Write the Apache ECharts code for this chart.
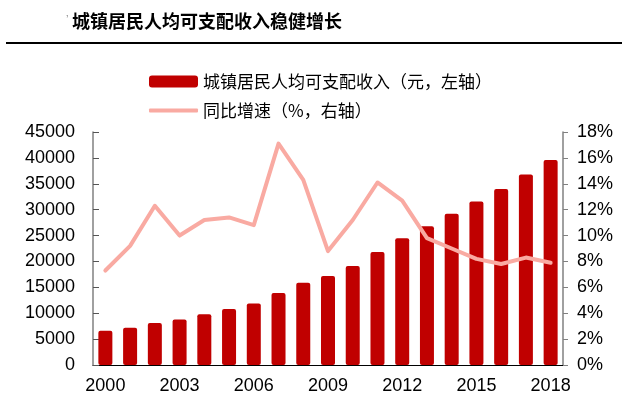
<!DOCTYPE html>
<html>
<head>
<meta charset="utf-8">
<script src="https://cdn.jsdelivr.net/npm/echarts@6/dist/echarts.min.js"></script>
<style>html,body{margin:0;padding:0;background:#fff;}#c{width:622px;height:402px;}</style>
</head>
<body>
<div id="c"></div>
<script>
var years = ['2000','2001','2002','2003','2004','2005','2006','2007','2008','2009','2010','2011','2012','2013','2014','2015','2016','2017','2018'];
var income = [6600, 7200, 8100, 8800, 9800, 10800, 11900, 13900, 15900, 17200, 19100, 21800, 24500, 26800, 29200, 31600, 34000, 36800, 39600];
var growth = [7.3, 9.2, 12.3, 10.0, 11.2, 11.4, 10.8, 17.1, 14.3, 8.8, 11.2, 14.1, 12.7, 9.8, 9.0, 8.2, 7.8, 8.3, 7.9];
var barName = '城镇居民人均可支配收入（元，左轴）';
var lineName = '同比增速（%，右轴）';
var titleText = '城镇居民人均可支配收入稳健增长';

var chart = echarts.init(document.getElementById('c'));
var numFont = {fontFamily: 'Liberation Sans, Arial, sans-serif', fontSize: 18, color: '#000'};
chart.setOption({
  animation: false,
  backgroundColor: '#fff',
  graphic: [
    {type: 'text', left: 72, top: 12, style: {text: titleText, fontSize: 18, fontWeight: 'bold', fill: '#000', fontFamily: 'Noto Sans CJK SC'}},
    {type: 'text', left: 66, top: 14, style: {text: '\u2019', fontSize: 11, fill: '#888', fontFamily: 'Liberation Sans'}},
    {type: 'rect', shape: {x: 6, y: 42, width: 616, height: 2}, style: {fill: '#000'}}
  ],
  legend: [
    {left: 149, top: 73, padding: 0, orient: 'vertical', itemWidth: 49, itemHeight: 12,
     data: [{name: barName, icon: 'roundRect'}],
     textStyle: {fontSize: 17, color: '#000', fontFamily: 'Noto Sans CJK SC'}},
    {left: 149, top: 102, padding: 0, orient: 'vertical', itemWidth: 49, itemHeight: 4,
     data: [{name: lineName, icon: 'roundRect'}],
     textStyle: {fontSize: 17, color: '#000', fontFamily: 'Noto Sans CJK SC'}}
  ],
  grid: {left: 93, right: 59, top: 132, bottom: 37},
  xAxis: {
    type: 'category', data: years, boundaryGap: true,
    axisLine: {lineStyle: {color: '#000', width: 1}},
    axisTick: {inside: true, length: 5, interval: 2, lineStyle: {color: '#000'}},
    axisLabel: Object.assign({interval: 2, margin: 12}, numFont)
  },
  yAxis: [
    {type: 'value', min: 0, max: 45000, interval: 5000, splitLine: {show: false},
     axisLine: {show: true, lineStyle: {color: '#808080', width: 1.5}},
     axisTick: {show: true, inside: true, length: 6, lineStyle: {color: '#555'}},
     axisLabel: Object.assign({margin: 18, formatter: function (v) { return String(v); }}, numFont)},
    {type: 'value', min: 0, max: 18, interval: 2, splitLine: {show: false},
     axisLine: {show: true, lineStyle: {color: '#808080', width: 1.5}},
     axisTick: {show: true, inside: false, length: 5, lineStyle: {color: '#808080'}},
     axisLabel: Object.assign({margin: 14, formatter: '{value}%'}, numFont)}
  ],
  series: [
    {name: barName, type: 'bar', data: income, yAxisIndex: 0, barWidth: 14,
     itemStyle: {color: '#C00000', borderRadius: 2}},
    {name: lineName, type: 'line', data: growth, yAxisIndex: 1, symbol: 'none', z: 3,
     lineStyle: {color: '#F9AAA2', width: 4, cap: 'round', join: 'round'},
     itemStyle: {color: '#F9AAA2'}}
  ]
});
</script>
</body>
</html>
